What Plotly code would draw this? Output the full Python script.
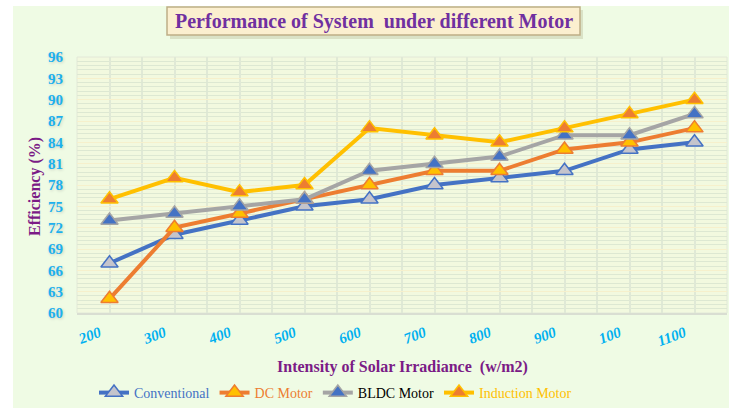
import plotly.graph_objects as go

categories = ["200", "300", "400", "500", "600", "700", "800", "900", "100", "1100"]
conventional = [67, 71, 73, 75, 76, 78, 79, 80, 83, 84]
dc_motor = [62, 72, 74, 76, 78, 80, 80, 83, 84, 86]
bldc_motor = [73, 74, 75, 76, 80, 81, 82, 85, 85, 88]
induction_motor = [76, 79, 77, 78, 86, 85, 84, 86, 88, 90]
y_ticks = list(range(60, 97, 3))

x_idx = list(range(len(categories)))

series = [
    ("Conventional", conventional, "#4472C4", "#C4C4CC", "#4472C4", "#4472C4"),
    ("DC Motor", dc_motor, "#ED7D31", "#FFC000", "#ED7D31", "#ED7D31"),
    ("BLDC Motor", bldc_motor, "#A5A5A5", "#4472C4", "#A5A5A5", "#000000"),
    ("Induction Motor", induction_motor, "#FFC000", "#ED7D31", "#FFC000", "#FFC000"),
]

fig = go.Figure()
for name, vals, lc, mfill, mline, tcol in series:
    fig.add_trace(go.Scatter(
        x=x_idx, y=vals, mode="lines+markers",
        name=f"<span style='color:{tcol}'>{name}</span>",
        line=dict(color=lc, width=4),
        marker=dict(symbol="triangle-up", size=15, color=mfill,
                    line=dict(color=mline, width=1.5)),
    ))

W, H = 729, 408
L, R, T, B = 77, 2, 57, 95
pw, ph = W - L - R, H - T - B

def px(x):
    return (x - L) / pw

def py(y):
    return (H - B - y) / ph

serif = "Liberation Serif, Times New Roman, serif"

fig.update_layout(
    width=W, height=H,
    margin=dict(l=L, r=R, t=T, b=B, autoexpand=False),
    paper_bgcolor="white",
    plot_bgcolor="rgba(0,0,0,0)",
    font=dict(family=serif),
    showlegend=True,
    legend=dict(orientation="h", x=px(94), y=py(393), xanchor="left", yanchor="middle",
                font=dict(family=serif, size=14), bgcolor="rgba(0,0,0,0)",
                itemwidth=30, tracegroupgap=0),
    shapes=[
        dict(type="rect", xref="paper", yref="paper", layer="below",
             x0=px(13), x1=px(729), y0=py(408), y1=py(6),
             fillcolor="#EFFBE4", line=dict(width=0)),
        dict(type="rect", xref="paper", yref="paper", layer="below",
             x0=px(77), x1=px(727), y0=py(313), y1=py(57),
             fillcolor="#F2F9DF", line=dict(color="#E2E8D8", width=1)),
        dict(type="rect", xref="paper", yref="paper", layer="above",
             x0=px(170), x1=px(583), y0=py(39), y1=py(10),
             fillcolor="rgba(170,170,130,0.3)", line=dict(width=0)),
        dict(type="rect", xref="paper", yref="paper", layer="above",
             x0=px(167), x1=px(580), y0=py(35), y1=py(7),
             fillcolor="#FBEFCF", line=dict(color="#BFAE86", width=1.5)),
    ],
    annotations=[
        dict(text="<b>Performance of System  under different Motor</b>",
             xref="paper", yref="paper", x=px(373.5), y=py(21),
             xanchor="center", yanchor="middle",
             showarrow=False, font=dict(family=serif, size=20, color="#7030A0")),
        dict(text="<b>Intensity of Solar Irradiance  (w/m2)</b>",
             xref="paper", yref="paper", x=px(403), y=py(367),
             xanchor="center", yanchor="middle",
             showarrow=False, font=dict(family=serif, size=16, color="#7B1B86")),
        dict(text="<b>Efficiency (%)</b>", textangle=-90,
             xref="paper", yref="paper", x=px(35), y=py(187),
             xanchor="center", yanchor="middle",
             showarrow=False, font=dict(family=serif, size=16, color="#7B1B86")),
    ],
)

fig.update_xaxes(
    range=[-0.5, len(categories) - 0.5],
    tickvals=x_idx, ticktext=categories, tickangle=-20,
    tickfont=dict(family=serif, size=15, color="#00B0F0", weight="bold", style="italic"),
    showgrid=True, gridcolor="#E0E9D6", gridwidth=1.5,
    minor=dict(dtick=0.5, tick0=-0.5, showgrid=True, gridcolor="#E0E9D6", gridwidth=1.5),
    showline=True, linecolor="#D9DED2", linewidth=1.5,
    ticks="", ticklabelstandoff=4, ticklabelshift=-10, zeroline=False, fixedrange=True,
)
fig.update_yaxes(
    range=[60, 96], tickvals=y_ticks,
    tickfont=dict(family=serif, size=15, color="#1CB0EE", weight="bold",
                  shadow="1px 1px 3px #c8d0c0"),
    showgrid=True, gridcolor="#F6F0CC", gridwidth=1,
    minor=dict(dtick=0.6, showgrid=True, gridcolor="#DDE8D2", gridwidth=1),
    ticks="", ticklabelstandoff=13, zeroline=False, showline=False, fixedrange=True,
)

fig.write_html("out.html", config={"displayModeBar": False},
               post_script="document.body.style.margin='0';document.body.style.overflow='hidden';")
